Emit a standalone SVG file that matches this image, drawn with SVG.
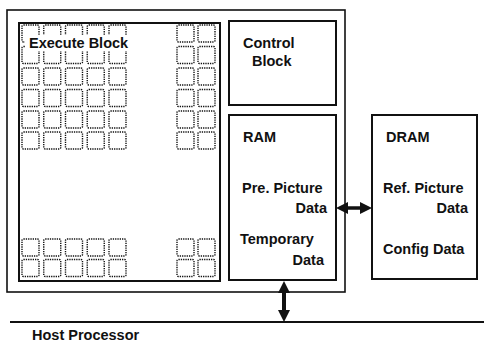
<svg xmlns="http://www.w3.org/2000/svg" xmlns:xlink="http://www.w3.org/1999/xlink" width="484" height="343" viewBox="0 0 484 343">
<style>
text{font-family:"Liberation Sans",Arial,sans-serif;font-weight:bold;font-size:14.5px;fill:#111}
.box{fill:none;stroke:#111;stroke-width:2}
.cell{fill:none;stroke:#111;stroke-width:1.4;stroke-dasharray:1.3 1}
.end{text-anchor:end}
</style>
<defs>
<rect id="c" class="cell" width="17" height="17" rx="1.5"/>
<marker id="ah" viewBox="0 0 12 12" refX="0" refY="6" markerWidth="12" markerHeight="12" markerUnits="userSpaceOnUse" orient="auto-start-reverse">
<path d="M0,0 L12,6 L0,12 z" fill="#111"/>
</marker>
</defs>
<rect width="484" height="343" fill="#fff"/>
<g id="chip">
<rect x="7" y="10" width="338" height="282" fill="none" stroke="#111" stroke-width="1.6"/>
</g>
<g id="execute">
<rect class="box" x="19" y="23" width="201" height="258" stroke-width="2.6"/>
<g id="cells">
<use xlink:href="#c" x="22" y="25"/><use xlink:href="#c" x="43.75" y="25"/><use xlink:href="#c" x="65.5" y="25"/><use xlink:href="#c" x="87.25" y="25"/><use xlink:href="#c" x="109" y="25"/>
<use xlink:href="#c" x="22" y="46.5"/><use xlink:href="#c" x="43.75" y="46.5"/><use xlink:href="#c" x="65.5" y="46.5"/><use xlink:href="#c" x="87.25" y="46.5"/><use xlink:href="#c" x="109" y="46.5"/>
<use xlink:href="#c" x="22" y="68"/><use xlink:href="#c" x="43.75" y="68"/><use xlink:href="#c" x="65.5" y="68"/><use xlink:href="#c" x="87.25" y="68"/><use xlink:href="#c" x="109" y="68"/>
<use xlink:href="#c" x="22" y="89.5"/><use xlink:href="#c" x="43.75" y="89.5"/><use xlink:href="#c" x="65.5" y="89.5"/><use xlink:href="#c" x="87.25" y="89.5"/><use xlink:href="#c" x="109" y="89.5"/>
<use xlink:href="#c" x="22" y="111"/><use xlink:href="#c" x="43.75" y="111"/><use xlink:href="#c" x="65.5" y="111"/><use xlink:href="#c" x="87.25" y="111"/><use xlink:href="#c" x="109" y="111"/>
<use xlink:href="#c" x="22" y="132"/><use xlink:href="#c" x="43.75" y="132"/><use xlink:href="#c" x="65.5" y="132"/><use xlink:href="#c" x="87.25" y="132"/><use xlink:href="#c" x="109" y="132"/>
<use xlink:href="#c" x="177" y="25"/><use xlink:href="#c" x="198" y="25"/>
<use xlink:href="#c" x="177" y="46.5"/><use xlink:href="#c" x="198" y="46.5"/>
<use xlink:href="#c" x="177" y="68"/><use xlink:href="#c" x="198" y="68"/>
<use xlink:href="#c" x="177" y="89.5"/><use xlink:href="#c" x="198" y="89.5"/>
<use xlink:href="#c" x="177" y="111"/><use xlink:href="#c" x="198" y="111"/>
<use xlink:href="#c" x="177" y="132"/><use xlink:href="#c" x="198" y="132"/>
<use xlink:href="#c" x="22" y="239"/><use xlink:href="#c" x="43.75" y="239"/><use xlink:href="#c" x="65.5" y="239"/><use xlink:href="#c" x="87.25" y="239"/><use xlink:href="#c" x="109" y="239"/>
<use xlink:href="#c" x="22" y="259.5"/><use xlink:href="#c" x="43.75" y="259.5"/><use xlink:href="#c" x="65.5" y="259.5"/><use xlink:href="#c" x="87.25" y="259.5"/><use xlink:href="#c" x="109" y="259.5"/>
<use xlink:href="#c" x="177" y="239"/><use xlink:href="#c" x="198" y="239"/>
<use xlink:href="#c" x="177" y="259.5"/><use xlink:href="#c" x="198" y="259.5"/>
</g>
<rect x="25" y="35" width="104" height="16" fill="#fff"/>
<text x="29" y="47.5">Execute Block</text>
</g>
<g id="control">
<rect class="box" x="229" y="21" width="107" height="84"/>
<text x="243" y="48">Control</text>
<text x="252" y="66">Block</text>
</g>
<g id="ram">
<rect class="box" x="229" y="115" width="107" height="165"/>
<text x="243" y="142">RAM</text>
<text x="242" y="193">Pre. Picture</text>
<text class="end" x="327" y="213">Data</text>
<text x="240" y="244">Temporary</text>
<text class="end" x="324" y="265">Data</text>
</g>
<g id="dram">
<rect class="box" x="372" y="115" width="105" height="164"/>
<text x="386" y="142">DRAM</text>
<text x="383" y="193">Ref. Picture</text>
<text class="end" x="468" y="213">Data</text>
<text x="383" y="254">Config Data</text>
</g>
<g id="host">
<line x1="10" y1="322" x2="484" y2="322" stroke="#111" stroke-width="2"/>
<text x="32" y="340">Host Processor</text>
</g>
<g id="connectors">
<line x1="284" y1="293" x2="284" y2="310" stroke="#111" stroke-width="4" marker-start="url(#ah)" marker-end="url(#ah)"/>
<line x1="348" y1="208" x2="360" y2="208" stroke="#111" stroke-width="3.5" marker-start="url(#ah)" marker-end="url(#ah)"/>
</g>
</svg>
